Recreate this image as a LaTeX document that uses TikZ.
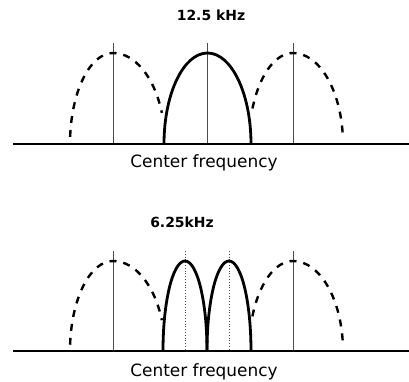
\documentclass[tikz,border=0pt]{standalone}
\usepackage{fontspec}
\setsansfont{DejaVu Sans}
\usepackage{tikz}
\usetikzlibrary{positioning}

\begin{document}
\begin{tikzpicture}[x=1bp, y=-1bp,
  axisline/.style={line width=2.8bp},
  bandsolid/.style={line width=2.8bp},
  banddash/.style={line width=2.4bp, dash pattern=on 7bp off 7bp, dash phase=3.5bp},
  peakline/.style={line width=0.6bp, black!70},
  subline/.style={line width=0.8bp, black!70, dotted},
  title/.style={font=\sffamily\bfseries\fontsize{14}{16}\selectfont},
  caption/.style={font=\sffamily\fontsize{17}{19}\selectfont}]
\path[use as bounding box] (0,0) rectangle (409,382);

% upper panel: one 12.5 kHz channel
\node[title] (T1) at (211,15) {12.5 kHz};
\draw[peakline] (113,43) -- (113,144);
\draw[peakline] (207,43) -- (207,144);
\draw[peakline] (293,43) -- (293,144);
\draw[banddash] (113,53) arc[start angle=270, end angle=184, x radius=43, y radius=91];
\draw[banddash] (113,53) arc[start angle=270, end angle=340, x radius=52, y radius=91];
\draw[banddash] (293,53) arc[start angle=270, end angle=201, x radius=44, y radius=91];
\draw[banddash] (293,53) arc[start angle=270, end angle=356, x radius=50, y radius=91];
\draw[bandsolid] (164,144) arc[start angle=180, end angle=360, x radius=43.5, y radius=91];
\draw[axisline] (13,144) coordinate (A1) -- (409,144) coordinate (B1);
\node[caption] (C1) at (204,163) {Center frequency};

% lower panel: two 6.25 kHz channels
\node[title] (T2) at (182,222) {6.25kHz};
\draw[peakline] (113,251) -- (113,351);
\draw[peakline] (293,251) -- (293,351);
\draw[subline] (185,251) -- (185,351);
\draw[subline] (229,251) -- (229,351);
\draw[banddash] (113,261) arc[start angle=270, end angle=184, x radius=43, y radius=90];
\draw[banddash] (113,261) arc[start angle=270, end angle=340, x radius=52, y radius=90];
\draw[banddash] (293,261) arc[start angle=270, end angle=201, x radius=44, y radius=90];
\draw[banddash] (293,261) arc[start angle=270, end angle=356, x radius=50, y radius=90];
\draw[bandsolid] (163,351) arc[start angle=180, end angle=360, x radius=22, y radius=90];
\draw[bandsolid] (207,351) arc[start angle=180, end angle=360, x radius=22, y radius=90];
\draw[axisline] (13,351) coordinate (A2) -- (409,351) coordinate (B2);
\node[caption] (C2) at (204,372) {Center frequency};
\end{tikzpicture}
\end{document}
